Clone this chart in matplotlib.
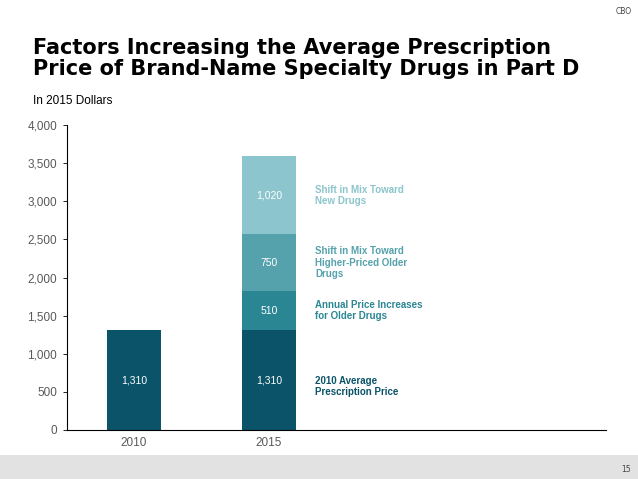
import matplotlib.pyplot as plt
from matplotlib.patches import Rectangle

plt.rcParams['font.family'] = ['Liberation Sans', 'DejaVu Sans']

years = ["2010", "2015"]
base_2010 = [1310, 1310]
annual_increase = [0, 510]
older_mix = [0, 750]
new_mix = [0, 1020]

series = [base_2010, annual_increase, older_mix, new_mix]
colors = ["#0A5368", "#2B8693", "#55A2AC", "#8CC5CD"]
legend_labels = [
    "2010 Average\nPrescription Price",
    "Annual Price Increases\nfor Older Drugs",
    "Shift in Mix Toward\nHigher-Priced Older\nDrugs",
    "Shift in Mix Toward\nNew Drugs",
]

yticks = [0, 500, 1000, 1500, 2000, 2500, 3000, 3500, 4000]

fig = plt.figure(figsize=(6.38, 4.79), dpi=100)
ax = fig.add_axes([67/638, 49/479, 539/638, 305/479])

x = [0, 1]
bottom = [0, 0]
for vals, c in zip(series, colors):
    ax.bar(x, vals, width=0.4, bottom=bottom, color=c)
    for i in range(len(x)):
        if vals[i] > 0:
            ax.text(x[i], bottom[i] + vals[i] / 2, f"{vals[i]:,}", ha="center", va="center",
                    color="white", fontsize=7.5)
    bottom = [b + v for b, v in zip(bottom, vals)]

# segment labels to the right of the 2015 bar
label_offsets = [-80, 0, 0, 0]
b = 0
for vals, c, lab, off in zip(series, colors, legend_labels, label_offsets):
    mid = b + vals[1] / 2 + off
    ax.text(1.34, mid, lab, ha="left", va="center", color=c, fontsize=7,
            fontweight="bold", linespacing=1.15)
    b += vals[1]

ax.set_xlim(-0.496, 3.496)
ax.set_ylim(0, 4000)
ax.set_xticks(x)
ax.set_xticklabels(years)
ax.set_yticks(yticks)
ax.set_yticklabels([f"{t:,}" for t in yticks])
ax.tick_params(axis="x", length=0, pad=5, labelsize=8.5, labelcolor="#595959")
ax.tick_params(axis="y", length=3, width=0.6, pad=4, labelsize=8.5, labelcolor="#595959")
ax.spines["top"].set_visible(False)
ax.spines["right"].set_visible(False)
ax.spines["left"].set_linewidth(0.8)
ax.spines["bottom"].set_linewidth(0.8)

fig.text(33/638, 1 - 58.5/479, "Factors Increasing the Average Prescription\nPrice of Brand-Name Specialty Drugs in Part D",
         ha="left", va="center", fontsize=15, fontweight="bold", linespacing=1.1,
         family="DejaVu Sans")
fig.text(33/638, 1 - 101/479, "In 2015 Dollars", ha="left", va="center", fontsize=8.5)
fig.text(632/638, 1 - 12/479, "CBO", ha="right", va="center", fontsize=5.5, color="#444444",
         family="DejaVu Sans")

fig.patches.append(Rectangle((0, 0), 1, 24/479, transform=fig.transFigure,
                             facecolor="#E2E2E2", edgecolor="none", zorder=0))
fig.text(631/638, 1 - 469/479, "15", ha="right", va="center", fontsize=5.5, color="#444444",
         family="DejaVu Sans")

plt.savefig("out.png", dpi=100)
